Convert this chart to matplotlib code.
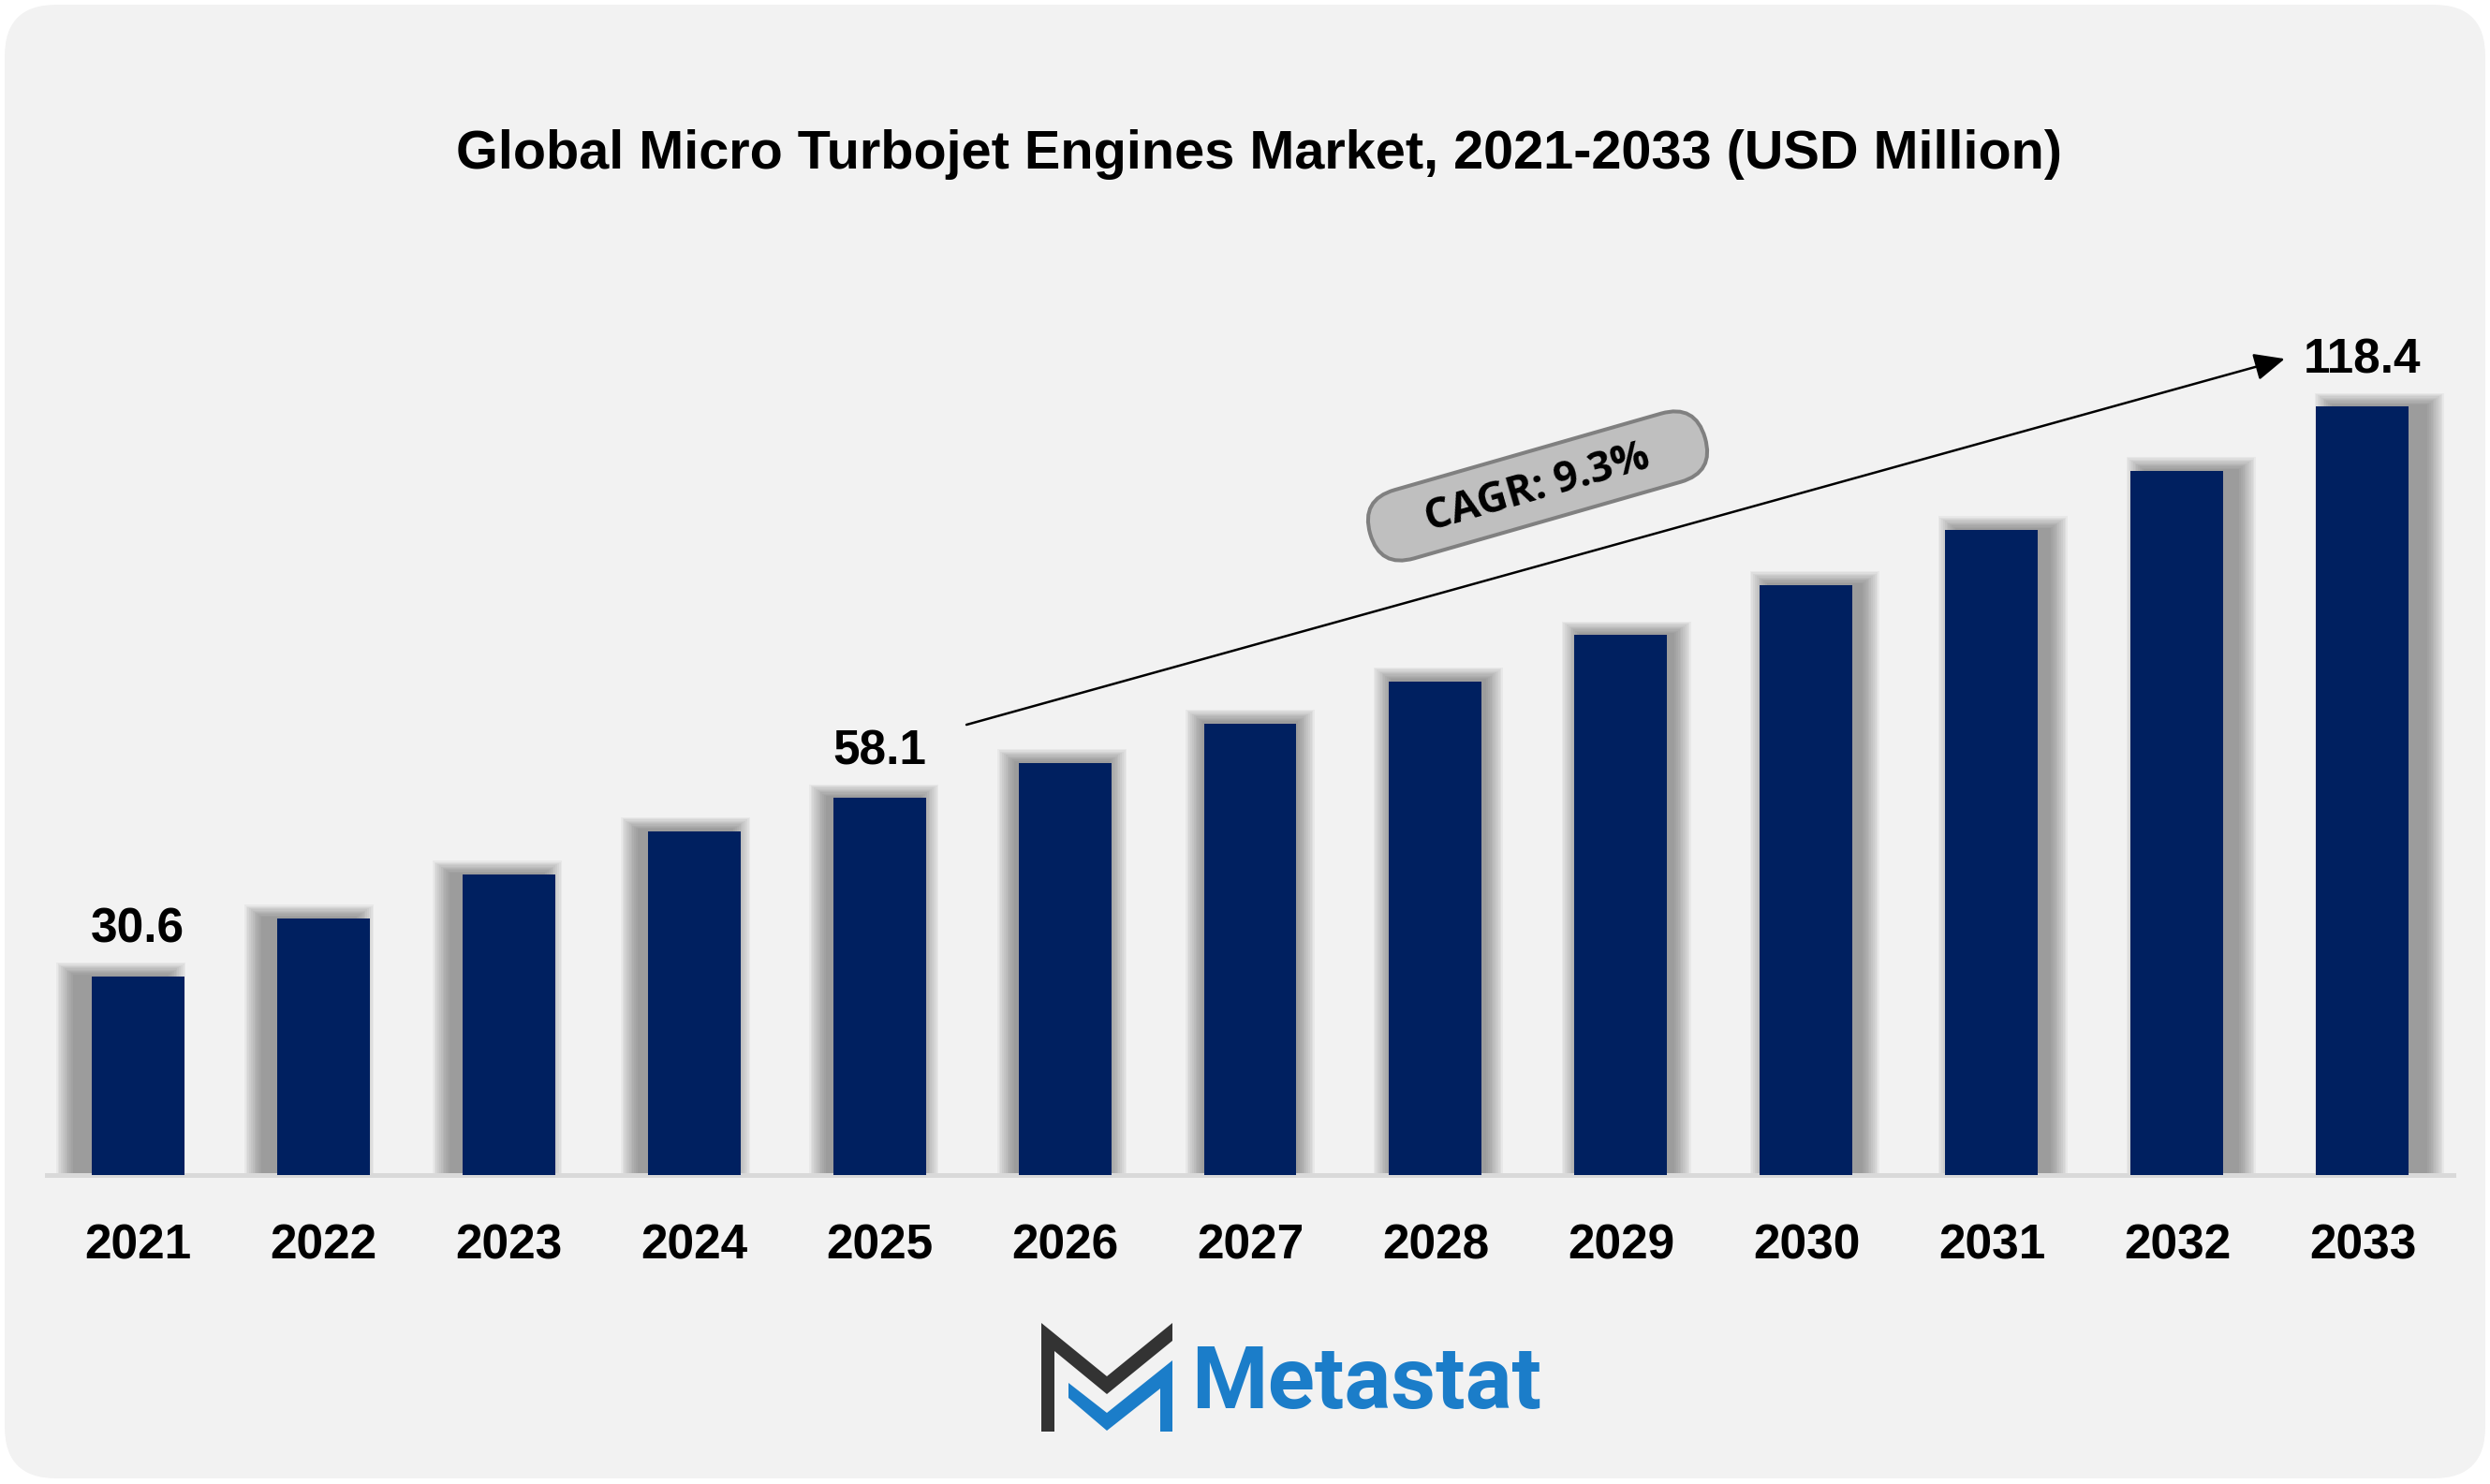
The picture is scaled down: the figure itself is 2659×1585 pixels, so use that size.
import matplotlib.pyplot as plt
import numpy as np
from matplotlib import font_manager as fm
from matplotlib.patches import FancyBboxPatch, Rectangle, Polygon
from matplotlib.transforms import Affine2D

# data
years = ["2021", "2022", "2023", "2024", "2025", "2026", "2027",
         "2028", "2029", "2030", "2031", "2032", "2033"]
values = [30.6, 39.5, 46.3, 53.0, 58.1, 63.5, 69.6, 76.1, 83.2, 90.9, 99.4, 108.5, 118.4]
labelled = ["2021", "2025", "2033"]
cagr_text = "CAGR: 9.3%"
title = "Global Micro Turbojet Engines Market, 2021-2033 (USD Million)"
brand = "Metastat"

# pick a narrow face for the title if one is installed
names = {f.name for f in fm.fontManager.ttflist}
if "Liberation Sans Narrow" in names:
    title_font, title_size = "Liberation Sans Narrow", 42
else:
    title_font, title_size = "Liberation Sans", 41.5

W, H = 2659, 1585
fig = plt.figure(figsize=(W / 100, H / 100), dpi=100)
fig.patch.set_facecolor("white")

# pixel canvas for background, logo and the CAGR badge
bg = fig.add_axes([0, 0, 1, 1], zorder=0)
bg.set_xlim(0, W)
bg.set_ylim(H, 0)
bg.axis("off")
bg.add_patch(FancyBboxPatch((5, 5), W - 10, H - 11,
                            boxstyle="round,pad=0,rounding_size=55",
                            fc="#f2f2f2", ec="none"))

# main chart axes
ax_h = 1040
ax = fig.add_axes([50 / W, (H - 1255) / H, 2570 / W, ax_h / H], zorder=1)
ax.patch.set_alpha(0)
x = np.arange(len(years))
ax.set_xlim(-0.49, len(years) - 0.51)
px_y = 1 / 6.93
px_x = (len(years) - 0.02) / 2570
ax.set_ylim(0, ax_h * px_y)

# soft shadows behind bars, pushed outward from the centre
for i, v in enumerate(values):
    dx = (i - 6) * 3.0 * px_x
    for k in range(11):
        e = (k + 1) * 1.8
        ax.add_patch(Rectangle((i - 0.25 + dx - e * px_x, 0),
                               0.5 + 2 * e * px_x, v + (1 + 0.7 * e) * px_y,
                               fc="#4a4a4a", ec="none", alpha=0.06, zorder=1))

ax.bar(x, values, width=0.5, color="#002060", zorder=3)
ax.axhline(0, color="#d9d9d9", lw=3.6, zorder=2, clip_on=False)

ax.set_xticks(x, years, fontsize=37, fontweight="bold", family="Liberation Sans")
ax.tick_params(axis="x", length=0, pad=37)
ax.set_yticks([])
for s in ax.spines.values():
    s.set_visible(False)

for i, (yr, v) in enumerate(zip(years, values)):
    if yr in labelled:
        ax.annotate(f"{v}", (i, v), xytext=(0, 26), textcoords="offset points",
                    ha="center", va="baseline", fontsize=37, fontweight="bold",
                    family="Liberation Sans")

# CAGR arrow
ax.annotate("", xy=(11.58, 125.8), xytext=(4.47, 69.4),
            arrowprops=dict(arrowstyle="-|>,head_length=1.0,head_width=0.45",
                            mutation_scale=20, lw=1.8, color="black",
                            shrinkA=0, shrinkB=0), zorder=4)

# CAGR badge
cx, cy, bw, bh = 1642, 519, 372, 76
badge = FancyBboxPatch((cx - bw / 2, cy - bh / 2), bw, bh,
                       boxstyle=f"round,pad=0,rounding_size={bh / 2}",
                       fc="#bfbfbf", ec="#808080", lw=2.9)
badge.set_transform(Affine2D().rotate_deg_around(cx, cy, -16) + bg.transData)
bg.add_patch(badge)
bg.text(cx, cy + 3, cagr_text, rotation=16, rotation_mode="anchor", ha="center",
        va="center", fontsize=32, fontweight="bold", family="Open Sans")

# title
fig.text(1344 / W, 1 - 180 / H, title, ha="center", va="baseline",
         fontsize=title_size, fontweight="bold", family=title_font)

# logo
bg.add_patch(Polygon([(1112, 1413), (1182, 1470), (1252, 1413), (1252, 1432),
                      (1182, 1489), (1126, 1443), (1126, 1529), (1112, 1529)],
                     closed=True, fc="#333333", ec="none"))
bg.add_patch(Polygon([(1141, 1477), (1182, 1509), (1252, 1453), (1252, 1529),
                      (1239, 1529), (1239, 1483), (1182, 1528), (1141, 1493)],
                     closed=True, fc="#1b7dc9", ec="none"))
bg.text(1272, 1504, brand, ha="left", va="baseline", fontsize=67,
        fontweight="bold", family="Roboto", color="#1b7dc9")

fig.savefig("out.png", dpi=100)
